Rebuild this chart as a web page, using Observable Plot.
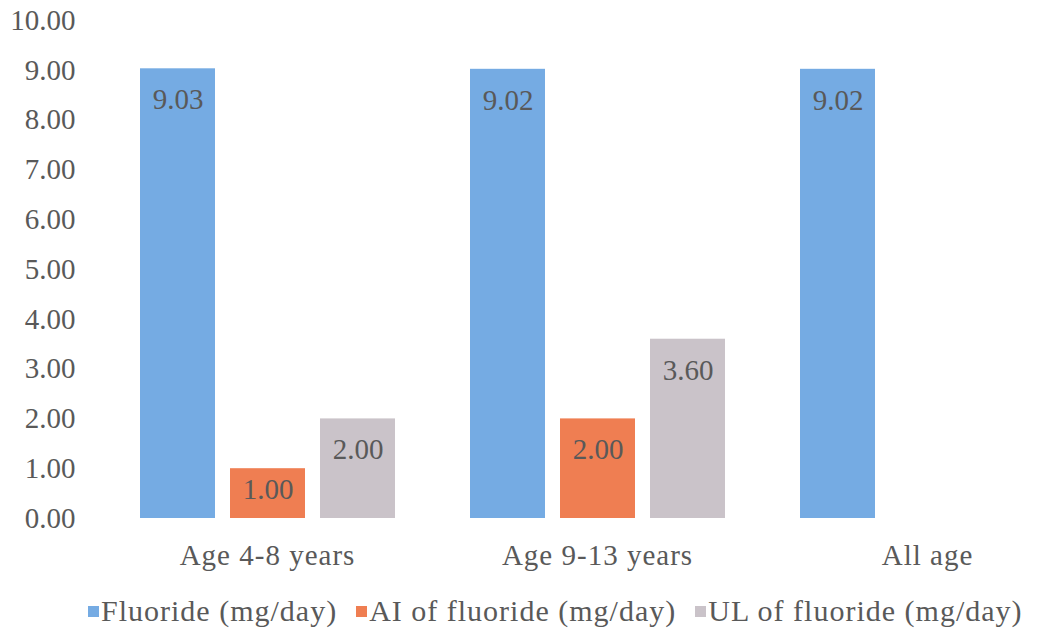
<!DOCTYPE html>
<html>
<head>
<meta charset="utf-8">
<script src="https://cdn.jsdelivr.net/npm/d3@7"></script>
<script src="https://cdn.jsdelivr.net/npm/@observablehq/plot@0.6"></script>
<style>
  html, body { margin: 0; padding: 0; background: #fff; overflow: hidden; }
  #chart { width: 1040px; }
  .legend { display: flex; align-items: center; font-family: "Liberation Serif", serif; font-size: 30px; letter-spacing: 1px; color: #595959; padding-left: 88px; padding-top: 6px; height: 50px; white-space: nowrap; }
  .legend .item { display: flex; align-items: center; margin-right: 19px; }
  .legend .sw { width: 11px; height: 11px; margin-right: 2px; }
  g[aria-label="fx-axis tick label"] text { letter-spacing: 1px; }
</style>
</head>
<body>
<div id="chart"></div>
<script>
const categories = ["Age 4-8 years", "Age 9-13 years", "All age"];
const series = ["Fluoride (mg/day)", "AI of fluoride (mg/day)", "UL of fluoride (mg/day)"];
const fluoride = [9.03, 9.02, 9.02];
const aiFluoride = [1.00, 2.00, null];
const ulFluoride = [2.00, 3.60, null];
const colors = ["#75abe3", "#ef7e52", "#cac3c9"];
const yTicks = [0, 1, 2, 3, 4, 5, 6, 7, 8, 9, 10];

const valuesBySeries = [fluoride, aiFluoride, ulFluoride];
const rows = [];
categories.forEach((c, i) => {
  series.forEach((s, j) => {
    const v = valuesBySeries[j][i];
    if (v != null) rows.push({category: c, series: s, value: v});
  });
});

const textColor = "#595959";

const plot = Plot.plot({
  width: 1040,
  height: 580,
  marginTop: 20,
  marginBottom: 62,
  marginLeft: 80,
  marginRight: 0,
  style: {fontFamily: "Liberation Serif, serif", background: "#fff"},
  fx: {domain: categories, range: [102, 1092], padding: 0, label: null, axis: null},
  x: {domain: series, paddingInner: 0.17, paddingOuter: 0.41, axis: null},
  y: {domain: [0, 10], axis: null},
  color: {domain: series, range: colors},
  marks: [
    Plot.barY(rows, {fx: "category", x: "series", y: "value", fill: "series"}),
    Plot.text(rows.filter(d => d.value >= 1.5), {
      fx: "category", x: "series", y: "value", text: d => d.value.toFixed(2),
      dy: 31, fill: textColor, fontSize: 29
    }),
    Plot.text(rows.filter(d => d.value < 1.5), {
      fx: "category", x: "series", y: d => d.value * 0.58, text: d => d.value.toFixed(2),
      fill: textColor, fontSize: 29
    }),
    Plot.axisY({ticks: yTicks, tickFormat: d => d.toFixed(2), tickSize: 0, tickPadding: 27,
      fontSize: 29, fill: textColor, label: null}),
    Plot.axisFx({anchor: "bottom", tickSize: 0, tickPadding: 26, fontSize: 29, fill: textColor, label: null})
  ]
});
document.getElementById("chart").appendChild(plot);

const legend = document.createElement("div");
legend.className = "legend";
series.forEach((s, i) => {
  const item = document.createElement("div");
  item.className = "item";
  const sw = document.createElement("span");
  sw.className = "sw";
  sw.style.background = colors[i];
  const t = document.createElement("span");
  t.textContent = s;
  item.appendChild(sw);
  item.appendChild(t);
  legend.appendChild(item);
});
document.getElementById("chart").appendChild(legend);
</script>
</body>
</html>
